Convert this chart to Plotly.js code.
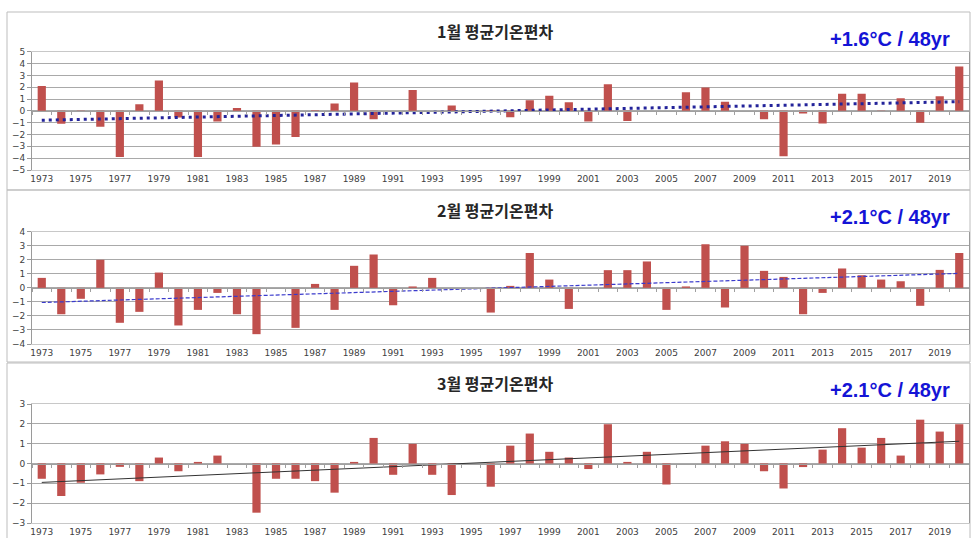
<!DOCTYPE html>
<html>
<head>
<meta charset="utf-8">
<script src="https://cdn.plot.ly/plotly-3.0.1.min.js"></script>
<style>
html,body{margin:0;padding:0;background:#fff;}
#chart{width:971px;height:538px;}
</style>
</head>
<body>
<div id="chart"></div>
<script>
// ---------- data ----------
var years = [1973,1974,1975,1976,1977,1978,1979,1980,1981,1982,1983,1984,1985,1986,1987,1988,
             1989,1990,1991,1992,1993,1994,1995,1996,1997,1998,1999,2000,2001,2002,2003,2004,
             2005,2006,2007,2008,2009,2010,2011,2012,2013,2014,2015,2016,2017,2018,2019,2020];

var janAnom = [2.1,-1.1,-0.05,-1.35,-3.9,0.56,2.56,-0.56,-3.9,-0.9,0.25,-3.04,-2.85,-2.2,0.05,0.62,
               2.4,-0.7,0.0,1.77,0.0,0.45,0.0,0.05,-0.54,0.9,1.27,0.73,-0.9,2.25,-0.85,0.0,
               0.0,1.58,1.97,0.76,0.0,-0.7,-3.83,-0.22,-1.07,1.44,1.44,0.03,1.07,-1.01,1.24,3.75];

var febAnom = [0.71,-1.88,-0.78,2.0,-2.49,-1.71,1.09,-2.68,-1.57,-0.36,-1.88,-3.3,0.0,-2.85,0.28,-1.57,
               1.57,2.37,-1.24,0.1,0.71,0.0,0.0,-1.76,0.14,2.49,0.59,-1.5,0.0,1.26,1.26,1.88,
               -1.57,0.1,3.11,-1.4,3.0,1.21,0.78,-1.88,-0.36,1.38,0.9,0.59,0.47,-1.28,1.28,2.49];

var marAnom = [-0.77,-1.64,-0.97,-0.55,-0.17,-0.89,0.3,-0.39,0.08,0.4,0.0,-2.48,-0.77,-0.77,-0.89,-1.47,
               0.08,1.29,-0.57,0.99,-0.57,-1.59,0.0,-1.17,0.9,1.51,0.59,0.3,-0.28,1.98,0.08,0.59,
               -1.06,0.0,0.9,1.12,0.99,-0.39,-1.26,-0.18,0.7,1.78,0.8,1.29,0.4,2.21,1.61,1.98];

var panelTitles = ["1월 평균기온편차", "2월 평균기온편차", "3월 평균기온편차"];
var trendLabels = ["+1.6°C / 48yr", "+2.1°C / 48yr", "+2.1°C / 48yr"];
var yRanges = [[-5,5],[-4,4],[-3,3]];

// ---------- helpers ----------
function linfit(xs, ys){
  var n = xs.length, sx=0, sy=0, sxx=0, sxy=0;
  for (var i=0;i<n;i++){ sx+=xs[i]; sy+=ys[i]; sxx+=xs[i]*xs[i]; sxy+=xs[i]*ys[i]; }
  var b = (n*sxy - sx*sy)/(n*sxx - sx*sx);
  var a = (sy - b*sx)/n;
  return function(x){ return a + b*x; };
}

var W = 971, H = 538;
function px(x){ return x/W; }
function py(y){ return 1 - y/H; }

var series = [janAnom, febAnom, marAnom];
var trendStyles = [
  {color:'#23239a', width:3, dash:'3px,4px'},
  {color:'#3a3acc', width:1.2, dash:'4px,2px'},
  {color:'#333333', width:1, dash:'solid'}
];
// plot-area pixel boxes [top,bottom]
var boxes = [[51.7,170],[231.7,344],[404,523]];
var titleY = [31, 210, 383];
var labelY = [39, 217, 390];
var panelBorders = [[12,190],[190,362],[363,540]];

var xDomain = [px(32), px(969)];
var xRange = [years[0]-0.5, years[years.length-1]+0.5];

var traces = [];
var layout = {
  width: W, height: H,
  margin: {l:0, r:0, t:0, b:0},
  paper_bgcolor: '#ffffff',
  plot_bgcolor: '#ffffff',
  showlegend: false,
  bargap: 0.58,
  font: {family: 'Noto Sans CJK KR, DejaVu Sans, sans-serif', color: '#404040'},
  annotations: [],
  shapes: []
};

for (var k=0;k<3;k++){
  var s = k===0 ? '' : String(k+1);
  var xa = 'x'+s, ya = 'y'+s;
  traces.push({
    type:'bar', x: years, y: series[k], xaxis: xa, yaxis: ya,
    marker: {color:'#c0504d'}, hoverinfo:'x+y'
  });
  var f = linfit(years, series[k]);
  var x0 = years[0], x1 = years[years.length-1];
  traces.push({
    type:'scatter', mode:'lines', x:[x0, x1], y:[f(x0), f(x1)],
    xaxis: xa, yaxis: ya, line: trendStyles[k], hoverinfo:'skip'
  });
  var dom = [py(boxes[k][1]), py(boxes[k][0])];
  layout['xaxis'+s] = {
    domain: xDomain, range: xRange, anchor: ya,
    tick0: 1973, dtick: 2, ticks: '',
    tickfont: {size: 9, color:'#404040', family:'DejaVu Sans, sans-serif'},
    showgrid: false, zeroline: false,
    showline: true, linecolor: '#c8c8c8', linewidth: 1, mirror: true
  };
  layout['yaxis'+s] = {
    domain: dom, range: yRanges[k], anchor: xa,
    dtick: 1, ticks: 'outside', ticklen: 4, tickcolor: '#999999',
    tickfont: {size: 9, color:'#404040', family:'DejaVu Sans, sans-serif'},
    showgrid: true, gridcolor: '#a9a9a9', gridwidth: 1,
    zeroline: false, showline: true, linecolor: '#9a9a9a', linewidth: 1, mirror: true
  };
  // zero-level category axis with tick marks
  var zs = String(k+4);
  layout['xaxis'+zs] = {
    overlaying: xa, anchor: 'free', position: (dom[0]+dom[1])/2,
    domain: xDomain, range: xRange,
    tick0: xRange[0], dtick: 1, ticks: 'outside', ticklen: 3, tickcolor: '#a0a0a0',
    showticklabels: false, showgrid: false, zeroline: false,
    showline: true, linecolor: '#a0a0a0', linewidth: 1
  };
  traces.push({type:'scatter', mode:'markers', x:[null], y:[null], xaxis:'x'+zs, yaxis: ya, hoverinfo:'skip'});

  layout.annotations.push({
    xref:'paper', yref:'paper', x: px(495), y: py(titleY[k]),
    xanchor:'center', yanchor:'middle', showarrow:false,
    text: panelTitles[k],
    font: {family:'Noto Sans CJK KR, sans-serif', size:16, color:'#262626', weight:'bold'}
  });
  layout.annotations.push({
    xref:'paper', yref:'paper', x: px(890), y: py(labelY[k]),
    xanchor:'center', yanchor:'middle', showarrow:false,
    text: '<b>'+trendLabels[k]+'</b>',
    font: {family:'Liberation Sans, Arial, sans-serif', size:20, color:'#1414d6'}
  });
  layout.shapes.push({
    type:'rect', xref:'paper', yref:'paper',
    x0: px(7), x1: px(970), y0: py(panelBorders[k][1]), y1: py(panelBorders[k][0]),
    line: {color:'#bdbdbd', width:1}, fillcolor:'rgba(0,0,0,0)', layer:'below'
  });
}

Plotly.newPlot('chart', traces, layout, {displayModeBar:false, staticPlot:true});
</script>
</body>
</html>
